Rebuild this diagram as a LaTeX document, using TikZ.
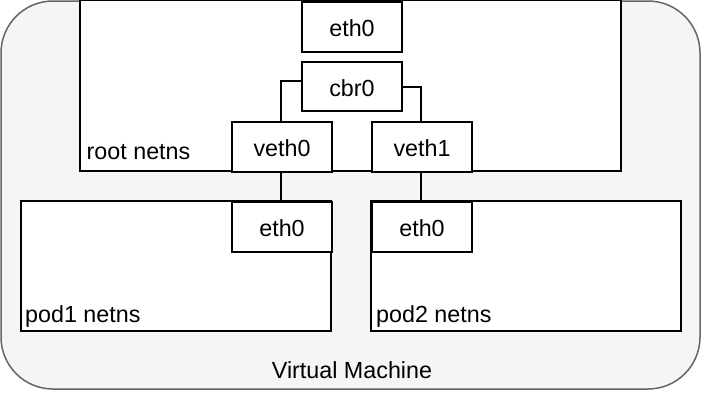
\documentclass[tikz,border=0pt]{standalone}
\usepackage{fontspec}
\setmainfont{Liberation Sans}
\begin{document}
\begin{tikzpicture}[x=1pt,y=-1pt,
  box/.style={draw=black,line width=2pt,fill=white},
  lbl/.style={font=\fontsize{23.3}{26}\selectfont,text=black},
  port/.style={box,lbl,minimum width=100pt,minimum height=50pt,inner sep=0pt,anchor=north west,text depth=0pt},
  wire/.style={draw=black,line width=2pt}]
\useasboundingbox (0,0) rectangle (702,392);
\draw[fill=black!4,draw=black!60,line width=1.5pt,rounded corners=52pt] (1,1) rectangle (700,389);
\path[box] (80,0) rectangle (621,171);
\node[port] (eth0) at (301,0.8) {\raisebox{-2.5pt}{eth0}};
\node[port,minimum height=49pt] (cbr0) at (301,61) {\raisebox{-2.5pt}{cbr0}};
\node[port] (veth0) at (231,121) {\raisebox{-2.5pt}{veth0}};
\node[port] (veth1) at (371,121) {\raisebox{-2.5pt}{veth1}};
\node[lbl,anchor=base west,inner sep=0pt] (root) at (86.5,159) {root netns};
\path[box] (21,201) rectangle (331,331);
\path[box] (371,201) rectangle (681,331);
\node[port] (p1eth) at (231,201) {\raisebox{-2.5pt}{eth0}};
\node[port] (p2eth) at (371,201) {\raisebox{-2.5pt}{eth0}};
\node[lbl,anchor=base west,inner sep=0pt] (pod1) at (25,322) {pod1 netns};
\node[lbl,anchor=base west,inner sep=0pt] (pod2) at (376,322) {pod2 netns};
\node[lbl,anchor=base,inner sep=0pt] (vmlbl) at (352,378) {Virtual Machine};
\draw[wire] (cbr0.west |- 0,81) -| (veth0.north -| 281,0);
\draw[wire] (cbr0.east |- 0,87) -| (veth1.north -| 421,0);
\draw[wire] (veth0.south -| 281,0) -- (p1eth.north -| 281,0);
\draw[wire] (veth1.south -| 421,0) -- (p2eth.north -| 421,0);
\end{tikzpicture}
\end{document}
